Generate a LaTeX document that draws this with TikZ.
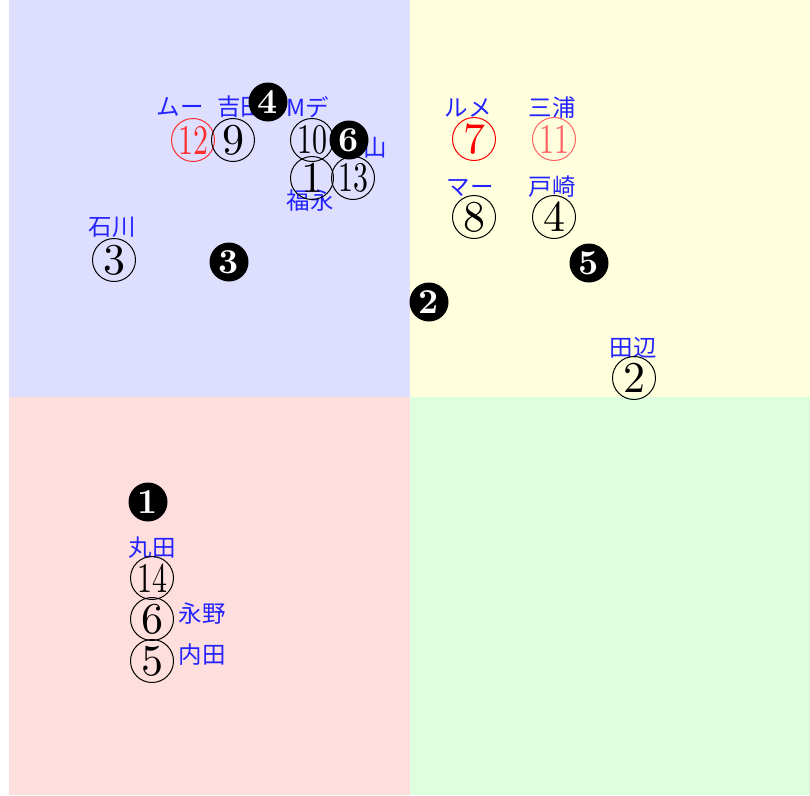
\documentclass[tikz,border=0pt]{standalone}
\usepackage{graphicx}
\usepackage{fontspec}
\newfontfamily\jpfont{Noto Sans CJK JP}
\newfontfamily\numfont{lmroman10-regular}[Extension=.otf]
\newfontfamily\bnumfont{lmroman10-bold}[Extension=.otf]
\definecolor{qblue}{RGB}{222,222,255}
\definecolor{qyellow}{RGB}{255,255,222}
\definecolor{qred}{RGB}{255,222,222}
\definecolor{qgreen}{RGB}{222,255,222}
\definecolor{lblcol}{RGB}{35,35,255}
\definecolor{redA}{RGB}{255,45,45}
\definecolor{redB}{RGB}{255,100,100}
\tikzset{
  cnum/.style={circle,draw,line width=1pt,minimum size=43pt,inner sep=0pt,font=\numfont\fontsize{44}{44}\selectfont},
  bnum/.style={circle,fill=black,minimum size=39pt,inner sep=0pt,text=white,font=\bnumfont\fontsize{35}{35}\selectfont},
  lbl/.style={text=lblcol,inner sep=0pt,font=\jpfont\fontsize{23.5}{23.5}\selectfont}
}
\newcommand{\twod}[1]{\scalebox{0.68}[0.96]{#1}}
\begin{document}
\begin{tikzpicture}[x=1pt,y=-1pt]
\useasboundingbox (0,0) rectangle (810,795);
\fill[qblue] (9,0) rectangle (410,397);
\fill[qyellow] (410,0) rectangle (810,397);
\fill[qred] (9,397) rectangle (410,795);
\fill[qgreen] (410,397) rectangle (810,795);
% labels
\node[lbl] (l12) at (180,107) {ムー};
\node[lbl,anchor=west] (l9) at (217,107) {吉田};
\node[lbl] (l10) at (308,107) {Mデ};
\node[lbl] (l13) at (363,148) {杉山};
\node[lbl] (l1) at (310,201) {福永};
\node[lbl] (l3) at (112,227) {石川};
\node[lbl] (l7) at (468,108) {ルメ};
\node[lbl] (l11) at (552,108) {三浦};
\node[lbl] (l8) at (470,188) {マー};
\node[lbl] (l4) at (552,187) {戸崎};
\node[lbl] (l2) at (633,348) {田辺};
\node[lbl] (l14) at (152,548) {丸田};
\node[lbl] (l6) at (202,614) {永野};
\node[lbl] (l5) at (202,655) {内田};
% circled numbers
\node[cnum,draw=redA,text=redA] (c12) at (193,140) {\twod{12}};
\node[cnum] (c9) at (233,140) {9};
\node[cnum] (c10) at (312,140) {\twod{10}};
\node[cnum] (c1) at (312,178) {1};
\node[cnum] (c13) at (353,178) {\twod{13}};
\node[cnum] (c3) at (114,260) {3};
\node[cnum,draw=red,text=red] (c7) at (474,139) {7};
\node[cnum,draw=redB,text=redB] (c11) at (554,139) {\twod{11}};
\node[cnum] (c8) at (474,217) {8};
\node[cnum] (c4) at (554,217) {4};
\node[cnum] (c2) at (634,378) {2};
\node[cnum] (c14) at (152,578) {\twod{14}};
\node[cnum] (c6) at (152,619) {6};
\node[cnum] (c5) at (152,661) {5};
% black numbers
\node[bnum] (b1) at (148,502) {1};
\node[bnum] (b2) at (429,302) {2};
\node[bnum] (b3) at (229,262) {3};
\node[bnum] (b4) at (268,102) {4};
\node[bnum] (b5) at (589,263) {5};
\node[bnum] (b6) at (349,140) {6};
\end{tikzpicture}
\end{document}
